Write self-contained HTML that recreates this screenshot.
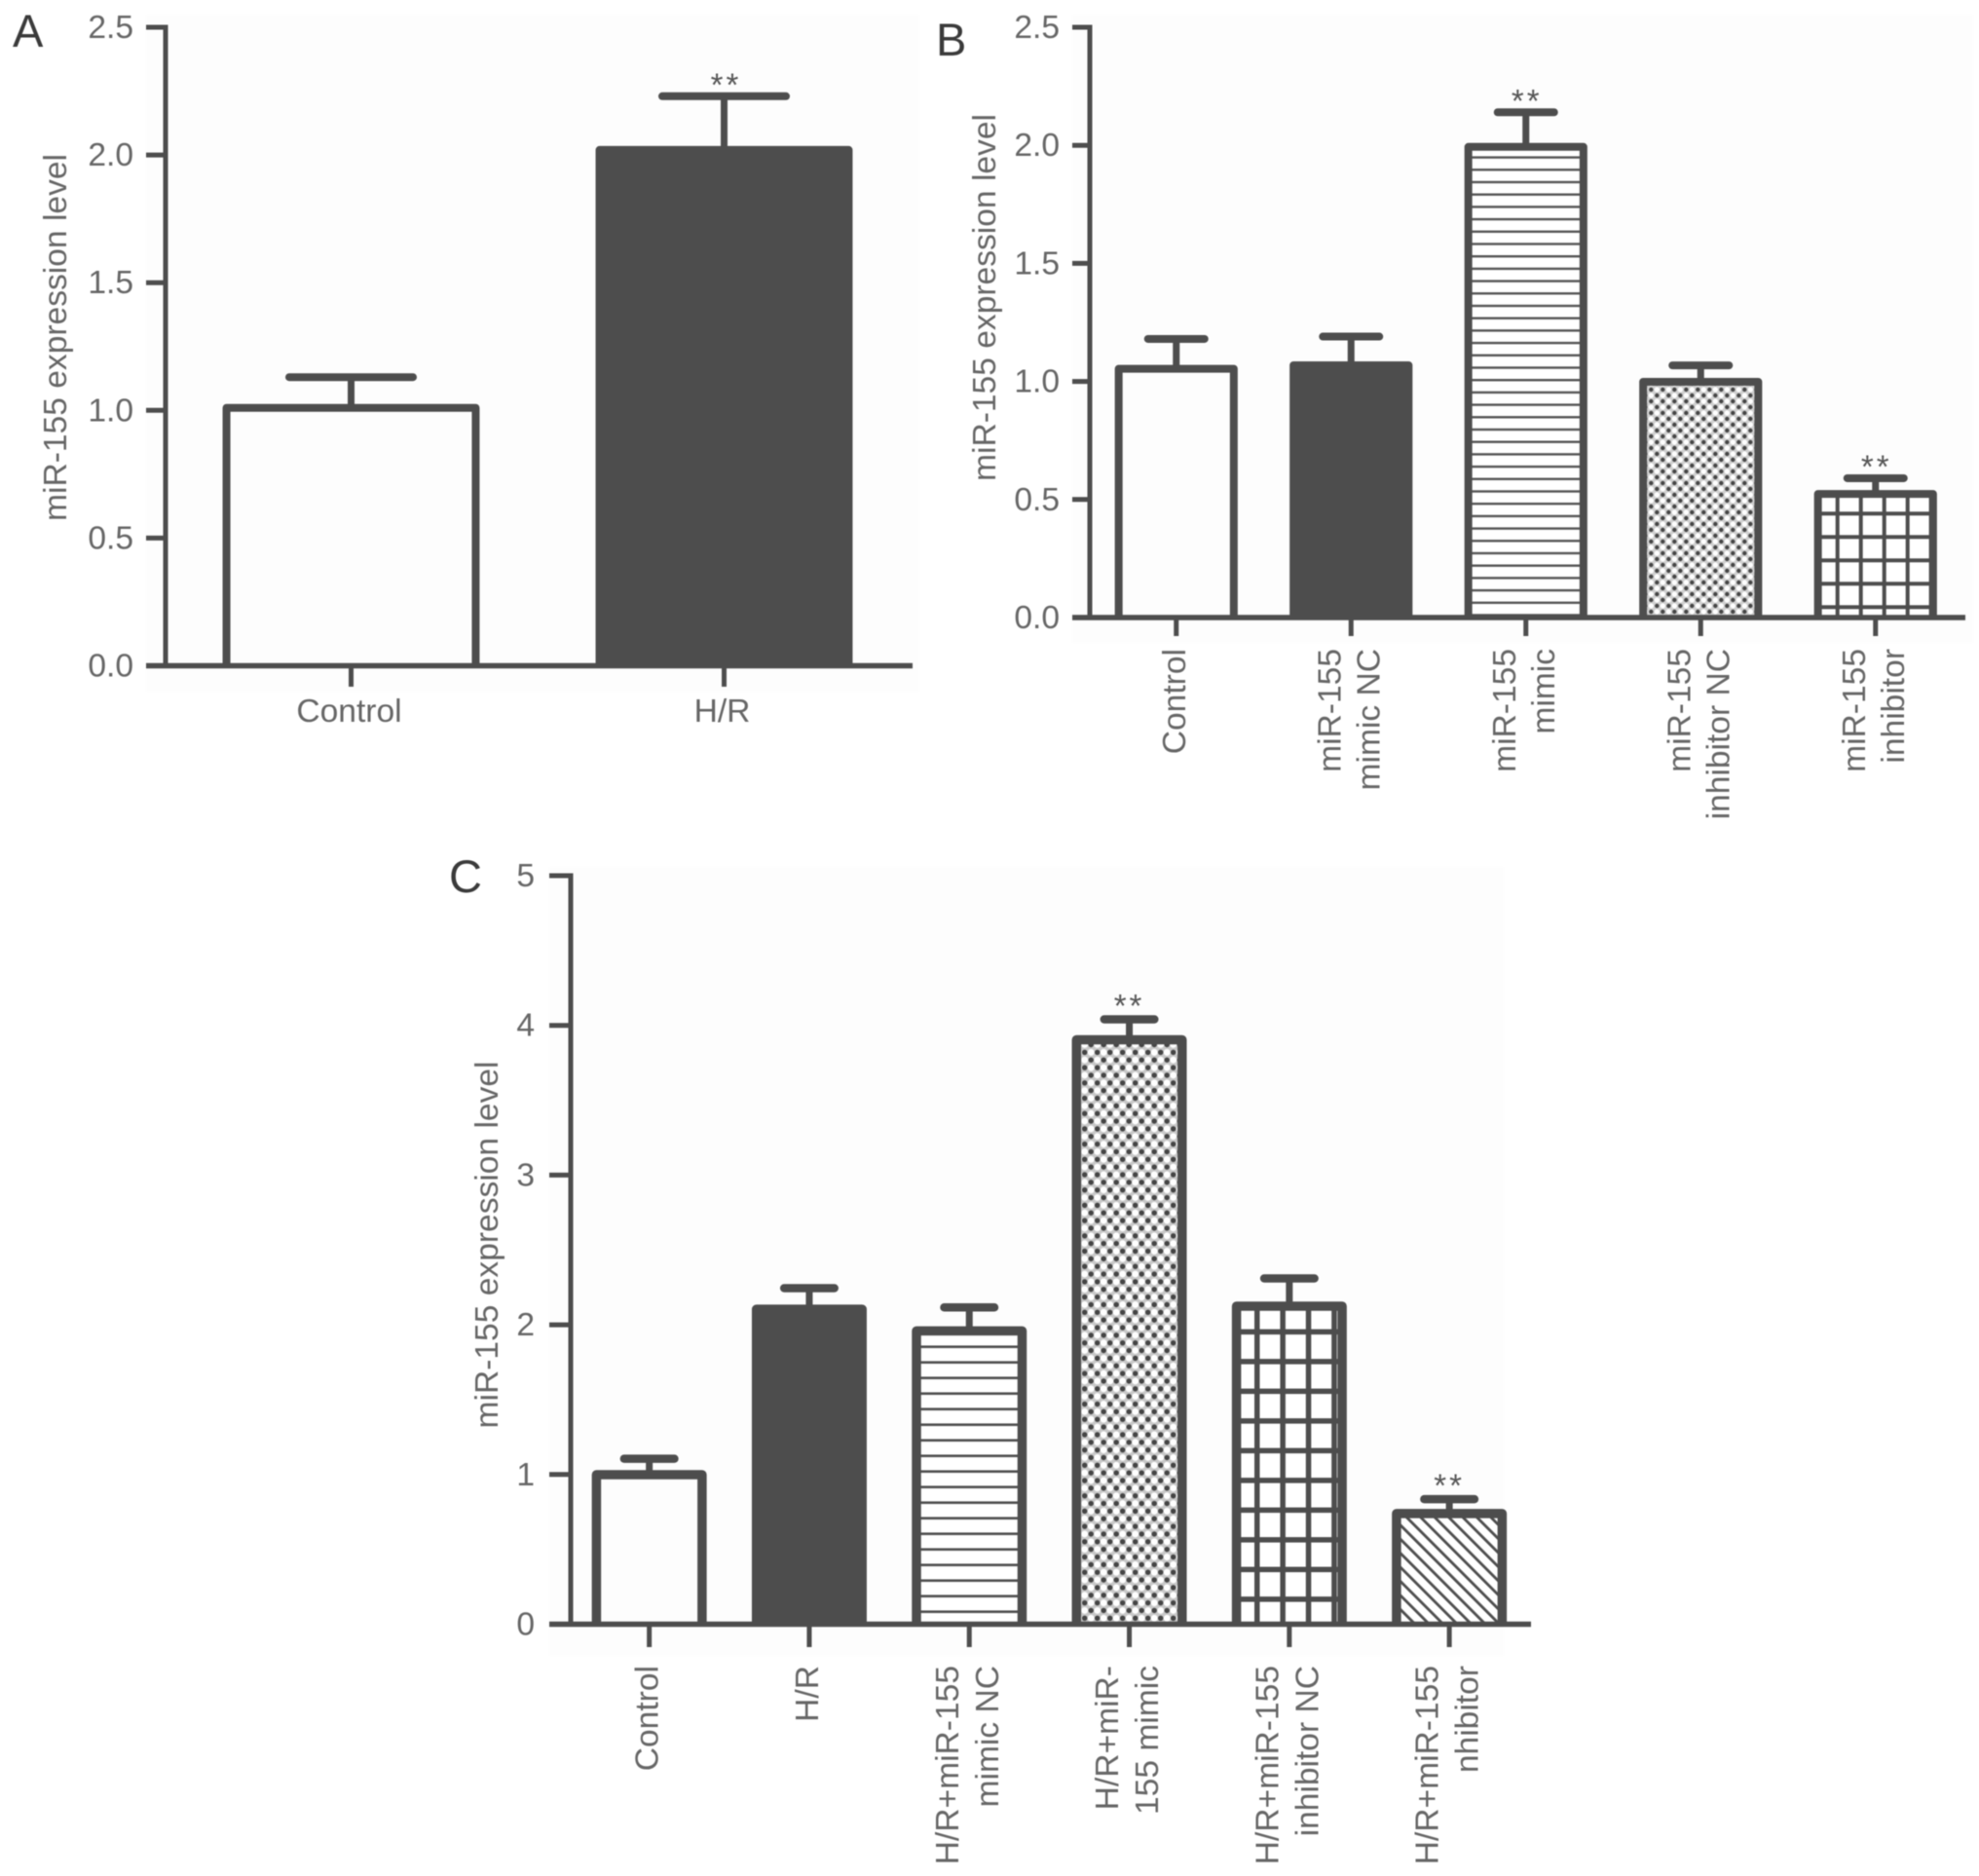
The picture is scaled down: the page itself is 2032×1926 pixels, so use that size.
<!DOCTYPE html>
<html lang="en">
<head>
<meta charset="utf-8">
<title>miR-155 expression level charts</title>
<style>
  html, body { margin: 0; padding: 0; background: #fff; }
  #figure { display: block; width: 2032px; height: 1926px; filter: blur(0.55px); }
  text { font-family: "Liberation Sans", sans-serif; }
</style>
</head>
<body>
<svg id="figure" xmlns="http://www.w3.org/2000/svg" width="2032" height="1926" viewBox="0 0 2032 1926">
  <defs>
    <pattern id="hlines-b" patternUnits="userSpaceOnUse" width="20" height="12.7" patternTransform="translate(0 389)">
      <rect width="20" height="12.7" fill="#fff"/>
      <rect y="0" width="20" height="2.4" fill="#555"/>
    </pattern>
    <pattern id="hlines-c" patternUnits="userSpaceOnUse" width="20" height="16" patternTransform="translate(0 1381.4)">
      <rect width="20" height="16" fill="#fff"/>
      <rect y="0" width="20" height="2.6" fill="#4d4d4d"/>
    </pattern>
    <pattern id="dots-b" patternUnits="userSpaceOnUse" width="12" height="12" patternTransform="translate(1704.3 397)">
      <rect width="12" height="12" fill="#d0d0d0"/>
      <circle cx="3" cy="3" r="2.2" fill="#444"/>
      <circle cx="9" cy="9" r="2.2" fill="#444"/>
      <circle cx="9" cy="3" r="2.6" fill="#fff"/>
      <circle cx="3" cy="9" r="2.6" fill="#fff"/>
    </pattern>
    <pattern id="dots-c" patternUnits="userSpaceOnUse" width="13" height="15.7" patternTransform="translate(1123.5 1343.5)">
      <rect width="13" height="15.7" fill="#c8c8c8"/>
      <circle cx="3.2" cy="3.8" r="2.7" fill="#444"/>
      <circle cx="9.7" cy="11.6" r="2.7" fill="#444"/>
      <circle cx="9.7" cy="3.8" r="3.4" fill="#fff"/>
      <circle cx="3.2" cy="11.6" r="3.4" fill="#fff"/>
    </pattern>
    <pattern id="grid-b" patternUnits="userSpaceOnUse" width="24" height="24" patternTransform="translate(1884.7 525.3)">
      <rect width="24" height="24" fill="#fff"/>
      <rect x="0" width="4" height="24" fill="#4d4d4d"/>
      <rect y="0" width="24" height="4" fill="#4d4d4d"/>
    </pattern>
    <pattern id="grid-c" patternUnits="userSpaceOnUse" width="26.4" height="30.5" patternTransform="translate(1288 1364.6)">
      <rect width="26.4" height="30.5" fill="#fff"/>
      <rect x="0" width="5.5" height="30.5" fill="#4d4d4d"/>
      <rect y="0" width="26.4" height="5.5" fill="#4d4d4d"/>
    </pattern>
    <pattern id="diagonal-c" patternUnits="userSpaceOnUse" width="10.2" height="10.2" patternTransform="rotate(-45)">
      <rect width="10.2" height="10.2" fill="#fff"/>
      <rect x="0" width="2.8" height="10.2" fill="#4d4d4d"/>
    </pattern>
  </defs>
  <rect width="2032" height="1926" fill="#ffffff"/>
  <rect x="150" y="15" width="794" height="695" fill="#fdfdfd"/>
  <rect x="1101" y="15" width="925" height="645" fill="#fdfdfd"/>
  <rect x="564" y="890" width="980" height="810" fill="#fdfdfd"/>
  <g id="panel-a"></g>
  <g id="panel-b"></g>
  <g id="panel-c"></g>
</svg>
<script>
// ---- Panel A data ----
const aCategories = ["Control", "H/R"];
const aValues = [1.025, 2.035];
const aErrorTops = [1.13, 2.23];
const aSignificant = [false, true];
const aTickLabels = ["0.0", "0.5", "1.0", "1.5", "2.0", "2.5"];
// ---- Panel B data ----
const bCategories = ["Control", "miR-155|mimic NC", "miR-155|mimic", "miR-155|inhibitor NC", "miR-155|inhibitor"];
const bValues = [1.07, 1.085, 2.01, 1.015, 0.54];
const bErrorTops = [1.18, 1.19, 2.14, 1.068, 0.59];
const bSignificant = [false, false, true, false, true];
const bTickLabels = ["0.0", "0.5", "1.0", "1.5", "2.0", "2.5"];
// ---- Panel C data ----
const cCategories = ["Control", "H/R", "H/R+miR-155|mimic NC", "H/R+miR-|155 mimic", "H/R+miR-155|inhibitor NC", "H/R+miR-155|nhibitor"];
const cValues = [1.03, 2.135, 1.99, 3.935, 2.155, 0.77];
const cErrorTops = [1.105, 2.245, 2.116, 4.04, 2.31, 0.835];
const cSignificant = [false, false, false, true, false, true];
const cTickLabels = ["0", "1", "2", "3", "4", "5"];

const SVG_NS = "http://www.w3.org/2000/svg";
const INK = "#4d4d4d";
const TEXT = "#666666";

function make(tag, attrs, parent) {
  const el = document.createElementNS(SVG_NS, tag);
  for (const key in attrs) el.setAttribute(key, attrs[key]);
  parent.appendChild(el);
  return el;
}

function drawPanel(parent, layout, categories, values, errorTops, significant, tickLabels) {
  const yMax = parseFloat(tickLabels[tickLabels.length - 1]);
  const yScale = v => layout.zero - (v / yMax) * (layout.zero - layout.top);
  const step = layout.step;
  const xCenter = i => layout.axisX + layout.bandOffset + (i + 0.5) * step;

  // panel letter
  const letter = make("text", { x: layout.letterX, y: layout.letterY, "font-size": 47, fill: "#3a3a3a" }, parent);
  
  
  letter.textContent = layout.letter;

  // y-axis title
  const title = make("text", {
    x: 0, y: 0, "font-size": 33.6, fill: TEXT, "text-anchor": "middle",
    transform: "translate(" + layout.titleX + " " + layout.titleY + ") rotate(-90)"
  }, parent);
  
  
  title.textContent = "miR-155 expression level";

  // bars: open three-sided outline sitting on the x axis
  categories.forEach((cat, i) => {
    const w = step * layout.barFrac;
    const sw = layout.border;
    const yTop = yScale(values[i]);
    const left = xCenter(i) - w / 2 + sw / 2;
    const right = xCenter(i) + w / 2 - sw / 2;
    const bar = make("path", {
      d: "M" + left + " " + layout.zero + "V" + (yTop + sw / 2) + "H" + right + "V" + layout.zero,
      fill: layout.fills[i],
      stroke: INK,
      "stroke-width": sw,
      "stroke-linejoin": "round"
    }, parent);
    
    

    const yErr = yScale(errorTops[i]);
    const stem = make("line", {
      x1: xCenter(i), x2: xCenter(i), y1: yTop + 2, y2: yErr,
      stroke: INK, "stroke-width": layout.stem
    }, parent);
    
    

    const cap = make("line", {
      x1: xCenter(i) - layout.capHalf + layout.capWidth / 2,
      x2: xCenter(i) + layout.capHalf - layout.capWidth / 2,
      y1: yErr, y2: yErr,
      stroke: INK, "stroke-width": layout.capWidth, "stroke-linecap": "round"
    }, parent);
    
    

    if (significant[i]) {
      const star = make("text", {
        x: xCenter(i) + layout.starDx, y: yErr - 2.5 + layout.starDy, "font-size": 33, fill: "#555",
        "text-anchor": "middle", "letter-spacing": "3px"
      }, parent);
      
      
      star.textContent = "**";
    }
  });

  // y axis and ticks
  const yAxis = make("line", {
    x1: layout.axisX, x2: layout.axisX, y1: layout.top - 2.5, y2: layout.zero,
    stroke: INK, "stroke-width": 5
  }, parent);
  
  

  tickLabels.forEach(label => {
    const v = parseFloat(label);
    const tick = make("line", {
      x1: layout.tickLeft, x2: layout.axisX, y1: yScale(v), y2: yScale(v),
      stroke: INK, "stroke-width": 5
    }, parent);
    
    

    const text = make("text", {
      x: layout.labelRight, y: yScale(v) + 11, "font-size": 33.6, fill: TEXT, "text-anchor": "end"
    }, parent);
    
    
    text.textContent = label;
  });

  // x axis and ticks
  const xAxis = make("line", {
    x1: layout.tickLeft, x2: layout.right, y1: layout.zero, y2: layout.zero,
    stroke: INK, "stroke-width": 5.5
  }, parent);
  
  

  categories.forEach((cat, i) => {
    const tick = make("line", {
      x1: xCenter(i), x2: xCenter(i), y1: layout.zero, y2: layout.tickBottom,
      stroke: INK, "stroke-width": 5
    }, parent);
    
    

    const lines = cat.split("|");
    lines.forEach((line, k) => {
      let attrs;
      if (layout.rotated) {
        const baseX = xCenter(i) + 9 + layout.lineGap * (k - (lines.length - 1) / 2);
        attrs = {
          x: 0, y: 0, "font-size": 33.6, fill: TEXT, "text-anchor": "end",
          transform: "translate(" + baseX + " " + layout.labelTop + ") rotate(-90)"
        };
      } else {
        attrs = { x: xCenter(i) - 2, y: layout.labelTop, "font-size": 33.6, fill: TEXT, "text-anchor": "middle" };
      }
      const text = make("text", attrs, parent);
      
      
      text.textContent = line;
    });
  });
}

drawPanel(document.getElementById("panel-a"), {
  letter: "A", letterX: 13, letterY: 48,
  axisX: 170, bandOffset: -1, top: 28, zero: 683.5, right: 937, tickLeft: 150, tickBottom: 705,
  step: 383, barFrac: 0.689, border: 8, stem: 7, capWidth: 8, capHalf: 67.5,
  labelRight: 137, titleX: 68, titleY: 346.5, labelTop: 741, rotated: false, lineGap: 40,
  starDx: 2, starDy: 2,
  fills: ["#fdfdfd", INK]
}, aCategories, aValues, aErrorTops, aSignificant, aTickLabels);

drawPanel(document.getElementById("panel-b"), {
  letter: "B", letterX: 961, letterY: 57,
  axisX: 1119, bandOffset: -1, top: 28, zero: 634, right: 2018, tickLeft: 1101, tickBottom: 653,
  step: 179.5, barFrac: 0.703, border: 8, stem: 7, capWidth: 8, capHalf: 33,
  labelRight: 1088, titleX: 1022, titleY: 305.5, labelTop: 666, rotated: true, lineGap: 40,
  starDx: 1, starDy: 2,
  fills: ["#fdfdfd", INK, "url(#hlines-b)", "url(#dots-b)", "url(#grid-b)"]
}, bCategories, bValues, bErrorTops, bSignificant, bTickLabels);

drawPanel(document.getElementById("panel-c"), {
  letter: "C", letterX: 461, letterY: 916,
  axisX: 586, bandOffset: -1.5, top: 899, zero: 1667.5, right: 1572, tickLeft: 564, tickBottom: 1691,
  step: 164.3, barFrac: 0.718, border: 9.5, stem: 7, capWidth: 8.5, capHalf: 30,
  labelRight: 549, titleX: 511, titleY: 1278, labelTop: 1710, rotated: true, lineGap: 41,
  starDx: 0, starDy: 0,
  fills: ["#fdfdfd", INK, "url(#hlines-c)", "url(#dots-c)", "url(#grid-c)", "url(#diagonal-c)"]
}, cCategories, cValues, cErrorTops, cSignificant, cTickLabels);
</script>
</body>
</html>
